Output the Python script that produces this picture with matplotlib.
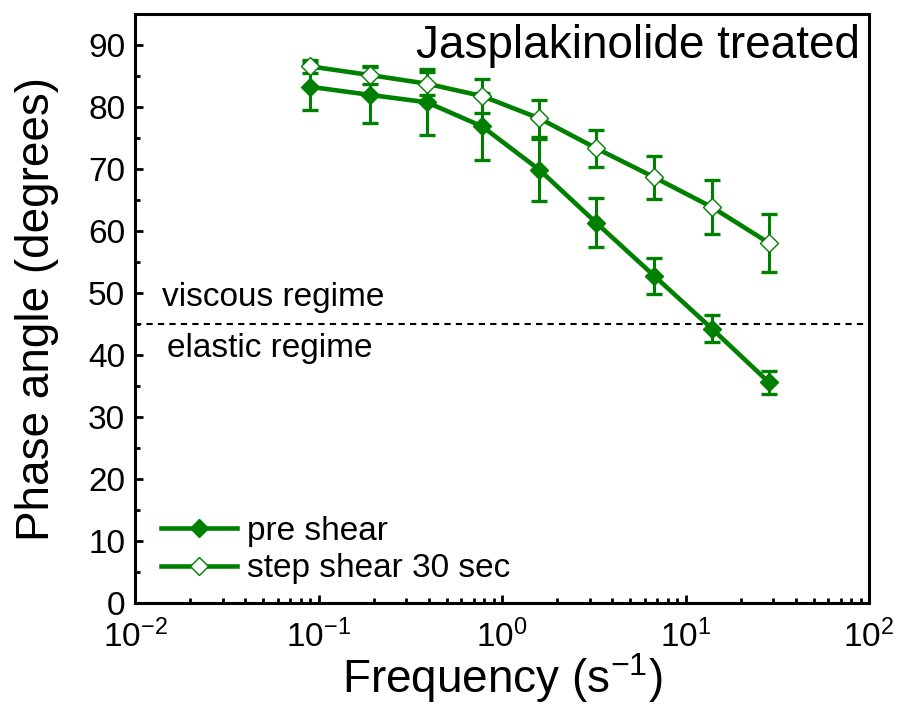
import numpy as np
import matplotlib
matplotlib.use("Agg")
import matplotlib.pyplot as plt
from matplotlib.ticker import MultipleLocator, LogLocator, NullFormatter

plt.rcParams['font.family'] = ['Liberation Sans', 'DejaVu Sans']
plt.rcParams['mathtext.default'] = 'regular'

# data
freq = [0.09, 0.19, 0.39, 0.78, 1.6, 3.25, 6.75, 13.9, 28.5]
pre_shear = [83.3, 82.0, 80.8, 76.9, 69.9, 61.4, 52.8, 44.3, 35.6]
pre_err = [3.8, 4.5, 5.3, 5.4, 5.0, 3.9, 2.9, 2.1, 1.9]
step_shear = [86.6, 85.2, 83.8, 81.8, 78.2, 73.4, 68.7, 63.9, 58.1]
step_err = [1.0, 1.4, 1.9, 2.8, 3.0, 3.0, 3.5, 4.4, 4.7]
labels = ['pre shear', 'step shear 30 sec']
green = '#008000'

fig = plt.figure(figsize=(8.97, 7.07), dpi=100)
ax = fig.add_axes([0.1505, 0.147, 0.8183, 0.8328])

# error bars first, lines + markers on top
for y, e in [(pre_shear, pre_err), (step_shear, step_err)]:
    ax.errorbar(freq, y, yerr=e, fmt='none', ecolor=green, elinewidth=2.2,
                capsize=5.6, capthick=2.4, zorder=2)

ax.plot(freq, pre_shear, color=green, lw=3.3, marker='D', ms=9,
        mfc=green, mec=green, label=labels[0], zorder=3)
ax.plot(freq, step_shear, color=green, lw=3.3, marker='D', ms=9,
        mfc='white', mec=green, mew=1, label=labels[1], zorder=3)

# 45 degree boundary
ax.axhline(45, color='black', lw=1.5, ls=(0, (3, 2.5)), zorder=1)
ax.text(0.0140, 48.0, 'viscous regime', fontsize=24, va='baseline', ha='left')
ax.text(0.0149, 39.7, 'elastic regime', fontsize=24, va='baseline', ha='left')

ax.text(0.988, 0.946, 'Jasplakinolide treated', transform=ax.transAxes,
        fontsize=33, ha='right', va='center')

ax.set_xscale('log')
ax.set_xlim(1e-2, 1e2)
ax.set_ylim(0, 95)
ax.yaxis.set_major_locator(MultipleLocator(10))
ax.yaxis.set_minor_locator(MultipleLocator(5))
ax.xaxis.set_major_locator(LogLocator(base=10, numticks=10))
ax.xaxis.set_minor_locator(LogLocator(base=10, subs=np.arange(2, 10), numticks=20))
ax.xaxis.set_minor_formatter(NullFormatter())

ax.tick_params(which='both', direction='in', top=False, right=False,
               labelsize=24, width=2)
ax.tick_params(which='major', length=6)
ax.tick_params(which='minor', length=3.4)
ax.tick_params(axis='x', which='major', pad=12)
ax.tick_params(axis='y', which='major', pad=7)
for s in ax.spines.values():
    s.set_linewidth(2.2)

ax.set_xlabel('Frequency (s$^{-1}$)', fontsize=33, labelpad=-2)
ax.set_ylabel('Phase angle (degrees)', fontsize=33, labelpad=21)

ax.legend(loc='lower left', bbox_to_anchor=(0.035, 0.032), frameon=False,
          fontsize=24, handlelength=2.3, handletextpad=0.3, labelspacing=0.2,
          borderpad=0, borderaxespad=0)

fig.savefig('out.png', dpi=100)
